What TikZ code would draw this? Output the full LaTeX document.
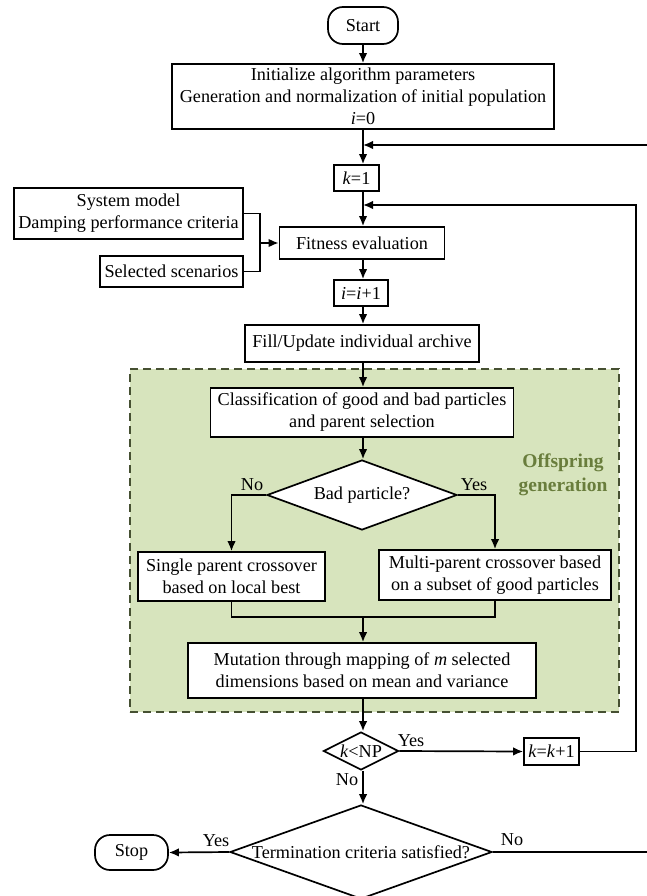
\documentclass[tikz,border=0pt]{standalone}
\usepackage{fontspec}
\setmainfont{Liberation Serif}
\usetikzlibrary{shapes.geometric,arrows.meta}
\definecolor{grpfill}{RGB}{215,228,189}
\definecolor{grpline}{RGB}{70,80,50}
\definecolor{grptext}{RGB}{105,125,60}
\begin{document}
\begin{tikzpicture}[x=1pt,y=-1pt,
  every node/.style={font=\fontsize{18.2}{22}\selectfont},
  box/.style={draw,line width=1.7pt,fill=white,align=center,inner sep=0pt},
  terminal/.style={box,rounded corners=15pt},
  dia/.style={draw,line width=1.7pt,fill=white,diamond,inner sep=0pt},
  lbl/.style={inner sep=0pt},
  arr/.style={line width=1.7pt,-{Latex[length=10pt,width=8.5pt]}},
  ln/.style={line width=1.7pt}]
\useasboundingbox (0,0) rectangle (646,896);
\fill[white] (0,0) rectangle (646,896);

% group
\node[draw=grpline,fill=grpfill,line width=1.7pt,dash pattern=on 8pt off 5pt,
      minimum width=489pt,minimum height=343pt,inner sep=0pt] (grp) at (374.5,540.5) {};
\node[lbl,font=\fontsize{19.5}{24}\selectfont\bfseries,text=grptext,align=center] (grplbl) at (563,475) {Offspring\\generation};

% nodes
\node[terminal,minimum width=70pt,minimum height=37pt] (start) at (363,25.5) {Start};
\node[box,minimum width=382pt,minimum height=65pt] (init) at (363,96.5)
  {Initialize algorithm parameters\\Generation and normalization of initial population\\\textit{i}=0};
\node[box,minimum width=45pt,minimum height=26pt] (k1) at (356.5,178) {\textit{k}=1};
\node[box,minimum width=229pt,minimum height=51pt] (sys) at (128.5,213.5) {System model\\Damping performance criteria};
\node[box,minimum width=143pt,minimum height=31pt] (sel) at (171.5,271.5) {Selected scenarios};
\node[box,minimum width=165pt,minimum height=32pt] (fit) at (362,243) {Fitness evaluation};
\node[box,minimum width=54pt,minimum height=26pt] (ii) at (361,293) {\textit{i}=\textit{i}+1};
\node[box,minimum width=234pt,minimum height=37pt] (fill) at (362,343.5) {Fill/Update individual archive};
\node[box,minimum width=303pt,minimum height=49pt] (cls) at (362,412.5) {Classification of good and bad particles\\and parent selection};
\node[dia,minimum width=190pt,minimum height=70pt] (bad) at (362,495) {};
\node[lbl] (badt) at (bad) {Bad particle?};
\node[box,minimum width=187pt,minimum height=49pt] (single) at (231.5,576.5) {Single parent crossover\\based on local best};
\node[box,minimum width=232pt,minimum height=50pt] (multi) at (495,575) {Multi-parent crossover based\\on a subset of good particles};
\node[box,minimum width=348pt,minimum height=55pt] (mut) at (362,670.5) {Mutation through mapping of \textit{m} selected\\dimensions based on mean and variance};
\node[dia,minimum width=75pt,minimum height=38pt] (knp) at (361,751) {};
\node[lbl] (knpt) at (knp) {\textit{k}<NP};
\node[box,minimum width=55pt,minimum height=27pt] (kk) at (551.5,751.5) {\textit{k}=\textit{k}+1};
\node[dia,minimum width=262pt,minimum height=94pt] (trm) at (361,852) {};
\node[lbl] (trmt) at (trm) {Termination criteria satisfied?};
\node[terminal,minimum width=73pt,minimum height=35pt] (stop) at (131.5,852.5) {Stop};

% labels
\node[lbl] (lno1) at (252,485) {No};
\node[lbl] (lyes1) at (474,485) {Yes};
\node[lbl] (lyes2) at (411,741) {Yes};
\node[lbl] (lno2) at (347,780) {No};
\node[lbl] (lyes3) at (216,841) {Yes};
\node[lbl] (lno3) at (512,840) {No};

% helper coordinates
\coordinate (fl) at (363,0);
\coordinate (r1) at (652,145);
\coordinate (r2) at (636,205);
\coordinate (jn) at (260,243);
\coordinate (mg) at (363,617);

% connectors
\draw[arr] (start) -- (init);
\draw[arr] (init.south -| fl) -- (k1.north -| fl);
\draw[arr] (r1) -- (r1 -| fl);
\draw[arr] (k1.south -| fl) -- (fit.north -| fl);
\draw[arr] (kk.east) -- (kk.east -| r2) -- (r2) -- (r2 -| fl);
\draw[ln] (sys.east) -- (sys.east -| jn) -- (sel.east -| jn) -- (sel.east);
\draw[arr] (jn) -- (fit.west);
\draw[arr] (fit.south -| fl) -- (ii.north -| fl);
\draw[arr] (ii.south -| fl) -- (fill.north -| fl);
\draw[arr] (fill.south -| fl) -- (cls.north -| fl);
\draw[arr] (cls.south -| fl) -- (bad.north -| fl);
\draw[arr] (bad.west) -| (single.north);
\draw[arr] (bad.east) -| (multi.north);
\draw[ln] (single.south) |- (mg) -| (multi.south);
\draw[arr] (mg) -- (mut.north -| mg);
\draw[arr] (mut.south -| fl) -- (knp.north -| fl);
\draw[arr] (knp.east) -- (kk.west);
\draw[arr] (knp.south -| fl) -- (trm.north -| fl);
\draw[arr] (trm.west) -- (stop.east);
\draw[ln] (trm.east) -- (trm.east -| r1) -- (r1);
\end{tikzpicture}
\end{document}
